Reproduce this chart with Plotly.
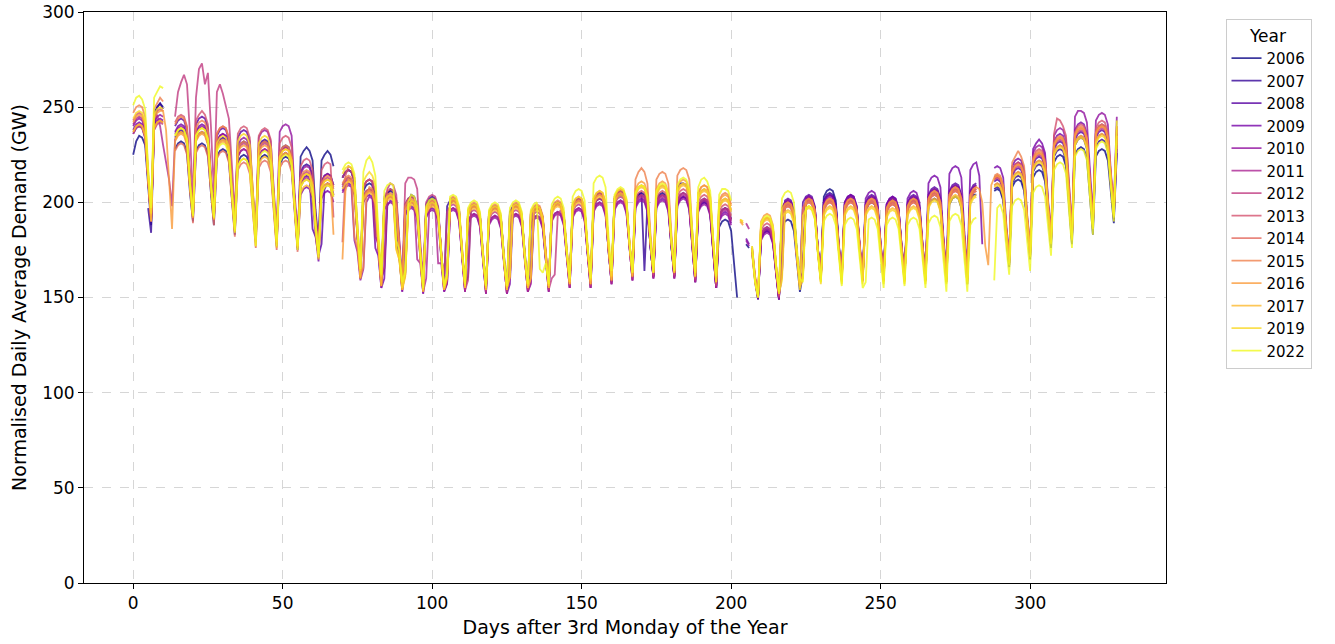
import plotly.graph_objects as go
from plotly.colors import sample_colorscale

N = None

# Normalised daily average demand (GW): one row per week (Mon..Sun),
# last row is the Monday on day 329.  None = no data for that day.
y2006 = [
    [225, 232, 235, 234, 230, 207, 188], [247, 250, 252, 250, N, N, N],
    [228, 231, 232, 231, 226, 205, 190], [227, 230, 231, 230, 225, 205, 188],
    [224, 227, 228, 227, 222, 200, 183], [221, 224, 225, 224, 219, 197, 179],
    [221, 224, 225, 224, 219, 196, 177], [220, 223, 224, 223, 218, 195, 175],
    [224, 227, 229, 227, 222, 196, 179], [222, 225, 227, 225, 219, N, N],
    [213, 216, 217, 216, 211, 183, 163], [206, 209, 210, 209, 204, 178, 158],
    [202, 205, 206, 205, 180, 172, 156], [163, 200, 204, 203, 198, 174, 155],
    [198, 201, 202, 201, 196, 173, 156], [162, 199, 201, 200, 195, 173, 155],
    [194, 197, 198, 197, 192, 171, 154], [193, 196, 197, 196, 191, 170, 154],
    [194, 197, 198, 197, 192, 171, 155], [161, 195, 197, 196, 191, 171, 155],
    [196, 199, 200, 199, 194, 173, 158], [197, 200, 201, 200, 195, 174, 157],
    [198, 201, 202, 201, 196, 174, 158], [200, 203, 204, 203, 198, 177, 161],
    [201, 204, 205, 204, 199, 177, 161], [201, 204, 205, 204, 199, 177, 161],
    [207, 210, 210, 209, 204, 180, 162], [196, 199, 200, 199, 194, 173, 155],
    [187, 190, 191, 190, 185, 165, 150], [N, N, 178, 176, N, 160, 149],
    [182, 185, 186, 185, 180, 163, 149], [187, 190, 191, 190, 185, 167, 153],
    [162, 200, 202, 201, 196, 175, 160], [203, 206, 207, 206, 201, 178, 162],
    [197, 200, 201, 200, 195, 175, 159], [196, 199, 200, 199, 194, 174, 159],
    [197, 200, 201, 200, 195, 175, 160], [197, 200, 201, 200, 195, 175, 159],
    [198, 201, 202, 201, 196, 175, 158], [199, 202, 203, 202, 197, 175, 157],
    [201, 204, 204, N, N, N, N], [N, 206, 207, 206, 201, 182, 166],
    [208, 211, 212, 211, 206, 186, 170], [213, 216, 217, 216, 211, 192, 176],
    [221, 224, 225, 224, 219, 197, 178], [225, 228, 229, 228, 223, 202, 183],
    [224, 227, 228, 227, 222, 205, 189], [226],
]

y2007 = [
    [N, N, N, N, N, 197, 184], [238, 250, 252, 249, N, N, N],
    [234, 237, 238, 237, 232, 209, 193], [233, 236, 237, 236, 231, 208, 191],
    [230, 233, 234, 233, 228, 204, 186], [228, 231, 232, 231, 226, 201, 182],
    [229, 232, 233, 232, 227, 201, 180], [226, 229, 230, 229, 224, 198, 178],
    [216, 219, 220, 219, 214, 191, 175], [211, 214, 215, 214, 209, N, N],
    [213, 216, 217, 216, 211, 183, 163], [208, 211, 212, 211, 182, 179, 160],
    [165, 203, 207, 206, 201, 176, 157], [199, 202, 203, 202, 197, 173, 155],
    [199, 202, 203, 202, 197, 174, 157], [198, 201, 202, 201, 196, 173, 156],
    [161, 198, 199, 198, 193, 171, 155], [194, 197, 198, 197, 192, 170, 155],
    [195, 198, 199, 198, 193, 171, 156], [162, 197, 198, 197, 192, 171, 156],
    [196, 199, 200, 199, 194, 173, 158], [198, 201, 202, 201, 196, 174, 158],
    [201, 204, 205, 204, 199, 176, 160], [202, 205, 206, 205, 200, 178, 162],
    [201, 204, 205, 164, 199, 177, 161], [200, 203, 204, 203, 198, 177, 161],
    [199, 202, 203, 202, 197, 176, 158], [197, 200, 201, 200, 195, 173, 155],
    [193, 196, 197, 196, 191, N, N], [N, N, N, N, 174, 159, 150],
    [181, 184, 185, 184, 179, 163, 149], [197, 200, 201, 200, 195, 173, 158],
    [163, 202, 203, 202, 197, 176, 160], [201, 204, 205, 204, 199, 177, 161],
    [199, 202, 203, 202, 197, 176, 160], [199, 202, 203, 202, 197, 176, 160],
    [198, 201, 202, 201, 196, 176, 160], [199, 202, 203, 202, 197, 176, 160],
    [203, 206, 207, 206, 201, 178, 160], [205, 208, 209, 208, 203, 179, 160],
    [205, 208, 209, N, N, N, N], [N, 207, 208, 207, 202, 182, 167],
    [210, 213, 214, 213, 208, 187, 171], [216, 219, 220, 219, 214, 194, 178],
    [224, 227, 228, 227, 222, 199, 180], [230, 233, 234, 233, 228, 205, 186],
    [229, 232, 233, 232, 227, 208, 191], [228],
]

y2008 = [
    [236, 239, 240, 239, 234, 209, 190], [239, 242, 243, 242, N, N, N],
    [240, 243, 244, 243, 238, 213, 196], [241, 244, 245, 244, 239, 213, 195],
    [235, 238, 239, 238, 233, 207, 188], [234, 237, 238, 237, 232, 205, 185],
    [228, 231, 232, 231, 226, 200, 180], [225, 228, 229, 228, 223, 198, 177],
    [210, 213, 214, 213, 186, 182, 172], [178, 207, 210, 209, 204, N, N],
    [209, 212, 213, 212, 207, 181, 161], [203, 206, 207, 206, 201, 176, 157],
    [200, 203, 204, 203, 198, 174, 155], [197, 200, 201, 200, 195, 172, 154],
    [196, 199, 200, 199, 194, 172, 155], [162, 200, 202, 201, 196, 173, 156],
    [195, 198, 199, 198, 193, 171, 155], [194, 197, 198, 197, 192, 170, 155],
    [161, 198, 199, 198, 193, 171, 156], [194, 197, 198, 197, 192, 171, 156],
    [196, 199, 200, 199, 194, 173, 158], [198, 201, 202, 201, 196, 174, 158],
    [201, 204, 205, 204, 199, 176, 160], [202, 205, 206, 205, 200, 178, 162],
    [200, 203, 204, 203, 198, 177, 161], [200, 203, 204, 203, 198, 177, 161],
    [201, 204, 205, 204, 199, 177, 159], [198, 201, 202, 201, 196, 174, 156],
    [193, 196, 197, 196, 191, N, N], [N, N, N, N, 175, 160, 150],
    [183, 186, 187, 186, 181, 164, 150], [163, 201, 202, 201, 196, 173, 158],
    [200, 203, 204, 203, 198, 176, 161], [200, 203, 204, 203, 198, 176, 161],
    [200, 203, 204, 203, 198, 176, 161], [200, 203, 204, 203, 198, 176, 161],
    [199, 202, 203, 202, 197, 176, 161], [200, 203, 204, 203, 198, 176, 161],
    [204, 207, 208, 207, 202, 178, 161], [206, 209, 210, 209, 204, 179, 161],
    [206, 209, 210, N, N, N, N], [N, 211, 212, 211, 206, 185, 168],
    [214, 217, 218, 217, 212, 190, 172], [220, 223, 224, 223, 218, 197, 179],
    [228, 231, 232, 231, 226, 202, 181], [233, 236, 237, 236, 231, 207, 187],
    [234, 237, 238, 237, 232, 211, 193], [236],
]

y2009 = [
    [238, 241, 242, 241, 236, 210, 190], [240, 243, 244, 243, N, N, N],
    [237, 240, 241, 240, 235, 211, 194], [237, 240, 241, 240, 235, 211, 193],
    [232, 235, 236, 235, 230, 205, 187], [224, 227, 228, 227, 222, 199, 180],
    [224, 227, 228, 227, 222, 198, 178], [222, 225, 226, 225, 220, 196, 176],
    [204, 207, 208, 207, 202, 183, 169], [202, 205, 206, 205, 200, N, N],
    [206, 209, 210, 209, 204, 179, 160], [200, 203, 204, 203, 176, 172, 155],
    [160, 198, 201, 200, 195, 172, 153], [194, 197, 198, 197, 192, 170, 152],
    [193, 196, 197, 196, 191, 170, 153], [158, 196, 197, 196, 191, 170, 153],
    [190, 193, 194, 193, 188, 168, 152], [189, 192, 193, 192, 187, 167, 152],
    [157, 193, 194, 193, 188, 168, 153], [189, 192, 193, 192, 187, 168, 153],
    [191, 194, 195, 194, 189, 170, 155], [193, 196, 197, 196, 191, 171, 155],
    [196, 199, 200, 199, 194, 173, 157], [197, 200, 201, 200, 195, 175, 159],
    [198, 201, 202, 201, 196, 176, 160], [198, 201, 202, 201, 196, 176, 160],
    [199, 202, 203, 202, 197, 176, 158], [196, 199, 200, 199, 194, 173, 155],
    [191, 194, 195, 194, 189, N, N], [N, N, 181, 178, N, 158, 149],
    [181, 184, 185, 184, 179, 163, 149], [196, 199, 200, 199, 194, 172, 157],
    [164, 202, 203, 202, 197, 176, 160], [200, 203, 204, 203, 198, 176, 161],
    [200, 203, 204, 203, 198, 176, 161], [202, 205, 206, 205, 200, 178, 162],
    [199, 202, 203, 202, 197, 176, 161], [202, 205, 206, 205, 200, 178, 162],
    [210, 213, 214, 213, 208, 182, 164], [215, 218, 219, 218, 213, 185, 165],
    [217, 220, 221, 214, 178, N, N], [N, 218, 219, 218, 213, 189, 172],
    [219, 222, 223, 222, 217, 193, 175], [228, 231, 233, 231, 226, 201, 183],
    [232, 235, 236, 235, 230, 204, 183], [238, 241, 242, 241, 236, 210, 190],
    [237, 240, 241, 240, 235, 212, 195], [232],
]

y2010 = [
    [240, 243, 244, 243, 238, 212, 191], [242, 245, 246, 245, N, N, N],
    [236, 239, 240, 239, 234, 210, 194], [236, 239, 240, 239, 234, 210, 193],
    [232, 235, 236, 235, 230, 205, 187], [230, 233, 234, 233, 228, 202, 183],
    [234, 237, 238, 237, 232, 204, 183], [237, 240, 241, 240, 235, 205, 183],
    [215, 218, 219, 218, 213, 190, 175], [211, 214, 215, 214, 209, N, N],
    [205, 208, 209, 208, 180, 174, 159], [165, 200, 203, 202, 197, 174, 155],
    [196, 199, 200, 199, 194, 172, 153], [193, 196, 197, 196, 191, 170, 152],
    [192, 195, 196, 195, 190, 170, 153], [157, 195, 196, 195, 190, 170, 153],
    [189, 192, 193, 192, 187, 168, 152], [188, 191, 192, 191, 186, 167, 152],
    [189, 192, 193, 192, 187, 168, 153], [157, 191, 192, 191, 186, 168, 153],
    [190, 193, 194, 193, 188, 170, 155], [192, 195, 196, 195, 190, 171, 155],
    [195, 198, 199, 198, 193, 173, 157], [196, 199, 200, 199, 194, 175, 159],
    [197, 200, 201, 200, 195, 175, 160], [197, 200, 201, 200, 195, 175, 160],
    [198, 201, 202, 201, 196, 175, 158], [195, 198, 199, 198, 193, 172, 155],
    [190, 193, 194, 193, 188, N, N], [N, N, 180, 177, N, 160, 150],
    [180, 183, 184, 183, 178, 162, 149], [197, 200, 201, 200, 195, 173, 158],
    [163, 202, 203, 202, 197, 176, 160], [199, 202, 203, 202, 197, 176, 160],
    [199, 202, 203, 202, 197, 176, 160], [199, 202, 203, 202, 197, 176, 160],
    [198, 201, 202, 201, 196, 176, 160], [199, 202, 203, 202, 197, 176, 160],
    [203, 206, 207, 206, 201, 178, 160], [205, 208, 209, 208, 203, 179, 160],
    [205, 208, 209, N, N, N, N], [N, 213, 214, 213, 208, 186, 170],
    [217, 220, 221, 220, 215, 191, 174], [226, 229, 230, 229, 224, 200, 182],
    [235, 238, 239, 238, 233, 206, 185], [245, 248, 248, 247, 242, 214, 193],
    [243, 246, 247, 246, 241, 216, 198], [245],
]

y2011 = [
    [241, 244, 245, 244, 239, 212, 192], [243, 246, 240, 230, 222, 212, 198],
    [233, 236, 237, 236, 231, 208, 192], [233, 236, 237, 236, 231, 208, 191],
    [229, 232, 233, 232, 227, 203, 185], [224, 227, 228, 227, 222, 199, 180],
    [224, 227, 228, 227, 222, 198, 178], [222, 225, 226, 225, 220, 196, 176],
    [209, 212, 213, 212, 207, 187, 172], [206, 209, 210, 209, 204, N, N],
    [208, 211, 212, 211, 206, 180, 160], [202, 205, 206, 205, 200, 175, 156],
    [199, 202, 203, 202, 197, 173, 154], [196, 199, 200, 199, 170, 168, 153],
    [160, 195, 199, 198, 168, 168, 154], [158, 196, 197, 196, 191, 170, 153],
    [190, 193, 194, 193, 188, 168, 152], [189, 192, 193, 192, 187, 167, 152],
    [190, 193, 194, 193, 188, 168, 153], [158, 192, 193, 192, 187, 168, 153],
    [191, 194, 195, 194, 189, 170, 155], [193, 196, 197, 196, 191, 171, 155],
    [196, 199, 200, 199, 194, 173, 157], [197, 200, 201, 200, 195, 175, 159],
    [199, 202, 203, 202, 197, 176, 160], [199, 202, 203, 202, 197, 176, 160],
    [200, 203, 204, 203, 198, 176, 158], [197, 200, 201, 200, 195, 173, 155],
    [192, 195, 196, 195, 190, N, N], [N, N, 189, 186, N, 159, 150],
    [182, 185, 186, 185, 180, 163, 150], [194, 197, 198, 197, 192, 171, 156],
    [161, 199, 200, 199, 194, 174, 159], [196, 199, 200, 199, 194, 174, 159],
    [196, 199, 200, 199, 194, 174, 159], [196, 199, 200, 199, 194, 174, 159],
    [195, 198, 199, 198, 193, 174, 159], [196, 199, 200, 199, 194, 174, 159],
    [200, 203, 204, 203, 198, 176, 159], [202, 205, 206, 205, 200, 177, 159],
    [202, 205, 206, N, N, N, N], [N, 209, 210, 209, 204, 183, 168],
    [212, 215, 216, 215, 210, 188, 172], [218, 221, 222, 221, 216, 195, 179],
    [226, 229, 230, 229, 224, 200, 181], [231, 234, 235, 234, 229, 205, 187],
    [232, 235, 236, 235, 230, 209, 193], [230],
]

y2012 = [
    [236, 239, 240, 239, 234, 209, 190], [238, 241, 242, 241, N, N, N],
    [245, 258, 263, 267, 262, 236, 201], [255, 270, 273, 262, 268, 240, 205],
    [258, 262, 257, 250, 244, 220, 195], [227, 230, 231, 230, 225, 201, 181],
    [227, 230, 231, 230, 225, 200, 179], [225, 228, 229, 228, 223, 198, 177],
    [212, 215, 216, 215, 210, 189, 173], [209, 212, 213, 212, 207, N, N],
    [213, 216, 217, 216, 211, 183, 163], [208, 211, 212, 211, 182, 178, 160],
    [166, 207, 210, 209, 204, 178, 158], [210, 213, 213, 212, 207, 180, 160],
    [200, 203, 204, 203, 198, 174, 157], [195, 198, 199, 198, 193, 171, 154],
    [159, 195, 196, 195, 190, 169, 153], [191, 194, 195, 194, 189, 168, 153],
    [192, 195, 196, 195, 190, 169, 154], [191, 194, 195, 194, 189, 169, 154],
    [160, 162, 193, 196, 191, 171, 156], [195, 198, 199, 198, 193, 172, 156],
    [198, 201, 202, 201, 196, 174, 158], [199, 202, 203, 202, 197, 176, 160],
    [200, 203, 204, 203, 198, 177, 161], [200, 203, 204, 203, 198, 177, 161],
    [201, 204, 205, 204, 199, 177, 159], [198, 201, 202, 201, 196, 174, 156],
    [193, 196, 197, 196, 191, N, N], [N, N, N, N, 174, 159, 150],
    [183, 186, 187, 186, 181, 164, 150], [196, 199, 200, 199, 194, 172, 157],
    [162, 201, 202, 201, 196, 175, 160], [198, 201, 202, 201, 196, 175, 160],
    [198, 201, 202, 201, 196, 175, 160], [198, 201, 202, 201, 196, 175, 160],
    [197, 200, 201, 200, 195, 175, 160], [198, 201, 202, 201, 196, 175, 160],
    [202, 205, 206, 205, 200, 177, 160], [204, 207, 208, 207, 202, 178, 160],
    [204, 207, 208, N, N, N, N], [N, 212, 213, 212, 207, 185, 169],
    [215, 218, 219, 218, 213, 190, 173], [221, 224, 225, 224, 219, 197, 180],
    [229, 232, 233, 232, 227, 202, 182], [234, 237, 238, 237, 232, 207, 188],
    [235, 238, 239, 238, 233, 211, 194], [238],
]

y2013 = [
    [243, 246, 247, 246, 241, 213, 193], [245, 248, 249, 248, N, N, N],
    [242, 245, 246, 245, 240, 214, 197], [243, 246, 248, 246, 241, 214, 196],
    [236, 239, 240, 239, 234, 208, 189], [236, 239, 240, 239, 234, 206, 186],
    [235, 238, 239, 238, 233, 204, 183], [231, 234, 235, 234, 229, 201, 180],
    [219, 222, 223, 222, 217, 193, 177], [217, 220, 221, 220, 192, N, N],
    [179, 214, 219, 218, 213, 185, 164], [208, 211, 212, 211, 206, 179, 160],
    [203, 206, 207, 206, 201, 176, 157], [199, 202, 203, 202, 197, 173, 155],
    [197, 200, 201, 200, 195, 173, 156], [161, 200, 201, 200, 195, 173, 156],
    [194, 197, 198, 197, 192, 171, 155], [193, 196, 197, 196, 191, 170, 155],
    [160, 197, 198, 197, 192, 171, 156], [193, 196, 197, 196, 191, 171, 156],
    [195, 198, 199, 198, 193, 173, 158], [197, 200, 201, 200, 195, 174, 158],
    [200, 203, 204, 203, 198, 176, 160], [201, 204, 205, 204, 199, 178, 162],
    [202, 205, 206, 205, 200, 178, 162], [202, 205, 206, 205, 200, 178, 162],
    [203, 206, 207, 206, 201, 178, 160], [200, 203, 204, 203, 198, 175, 157],
    [195, 198, 199, 198, 193, N, N], [N, N, N, N, 175, 160, 151],
    [185, 188, 189, 188, 183, 165, 151], [162, 198, 199, 198, 193, 172, 157],
    [197, 200, 201, 200, 195, 175, 160], [197, 200, 201, 200, 195, 175, 160],
    [197, 200, 201, 200, 195, 175, 160], [197, 200, 201, 200, 195, 175, 160],
    [196, 199, 200, 199, 194, 175, 160], [197, 200, 201, 200, 195, 175, 160],
    [201, 204, 205, 204, 199, 177, 160], [203, 206, 207, 206, 201, 178, 160],
    [203, 206, 207, N, N, N, N], [N, 212, 213, 212, 207, 185, 169],
    [217, 220, 221, 220, 215, 191, 174], [224, 227, 228, 227, 222, 199, 181],
    [236, 244, 243, 240, 235, 208, 186], [237, 240, 241, 240, 235, 209, 190],
    [239, 242, 243, 242, 237, 214, 196], [240],
]

y2014 = [
    [237, 240, 241, 240, 235, 210, 190], [239, 242, 243, 242, N, N, N],
    [227, 230, 231, 230, 225, 205, 189], [226, 229, 230, 229, 224, 204, 188],
    [223, 226, 227, 226, 221, 200, 182], [217, 220, 221, 220, 215, 194, 176],
    [218, 221, 222, 221, 216, 194, 175], [218, 221, 222, 221, 216, 193, 174],
    [208, 211, 212, 211, 206, 186, 171], [205, 208, 209, 208, 203, N, N],
    [209, 212, 213, 212, 207, 181, 161], [203, 206, 207, 206, 201, 176, 157],
    [200, 203, 204, 203, 177, 171, 155], [162, 197, 201, 200, 195, 172, 154],
    [196, 199, 200, 199, 194, 172, 155], [162, 201, 202, 201, 196, 173, 156],
    [195, 198, 199, 198, 193, 171, 155], [194, 197, 198, 197, 192, 170, 155],
    [161, 198, 199, 198, 193, 171, 156], [194, 197, 198, 197, 192, 171, 156],
    [196, 199, 200, 199, 194, 173, 158], [198, 201, 202, 201, 196, 174, 158],
    [201, 204, 205, 204, 199, 176, 160], [202, 205, 206, 205, 200, 178, 162],
    [205, 208, 209, 208, 203, 180, 163], [205, 208, 209, 208, 203, 180, 163],
    [206, 209, 210, 209, 204, 180, 161], [203, 206, 207, 206, 201, 177, 158],
    [198, 201, 202, 201, 196, N, N], [N, N, N, N, 176, 161, 151],
    [188, 191, 192, 191, 186, 167, 152], [162, 198, 199, 198, 193, 172, 157],
    [197, 200, 201, 200, 195, 175, 160], [197, 200, 201, 200, 195, 175, 160],
    [197, 200, 201, 200, 195, 175, 160], [197, 200, 201, 200, 195, 175, 160],
    [196, 199, 200, 199, 194, 175, 160], [197, 200, 201, 200, 195, 175, 160],
    [201, 204, 205, 204, 199, 177, 160], [203, 206, 207, 206, 201, 178, 160],
    [203, 206, 207, N, N, N, N], [N, 213, 214, 213, 208, 186, 170],
    [216, 219, 220, 219, 214, 191, 174], [222, 225, 226, 225, 220, 198, 181],
    [230, 233, 234, 233, 228, 203, 183], [235, 238, 239, 238, 233, 208, 189],
    [236, 239, 240, 239, 234, 212, 195], [236],
]

y2015 = [
    [247, 250, 251, 250, 245, 216, 195], [249, 252, 255, 253, N, N, N],
    [241, 244, 245, 244, 239, 213, 196], [239, 242, 243, 242, 237, 212, 194],
    [236, 239, 240, 239, 234, 208, 189], [228, 231, 232, 231, 226, 201, 182],
    [228, 231, 232, 231, 226, 200, 180], [226, 229, 230, 229, 224, 198, 178],
    [213, 216, 217, 216, 211, 189, 174], [210, 213, 214, 213, 208, N, N],
    [210, 213, 214, 213, 182, 176, 161], [166, 203, 208, 207, 202, 177, 157],
    [201, 204, 205, 204, 199, 175, 155], [198, 201, 202, 201, 196, 173, 154],
    [197, 200, 201, 200, 195, 173, 155], [162, 202, 203, 202, 197, 174, 156],
    [196, 199, 200, 199, 194, 172, 155], [195, 198, 199, 198, 193, 171, 155],
    [162, 199, 200, 199, 194, 172, 156], [195, 198, 199, 198, 193, 172, 156],
    [197, 200, 201, 200, 195, 174, 158], [199, 202, 203, 202, 197, 175, 159],
    [202, 205, 206, 205, 200, 177, 161], [203, 206, 207, 206, 201, 179, 163],
    [212, 216, 218, 216, 210, 184, 167], [212, 215, 216, 215, 210, 184, 167],
    [214, 217, 218, 217, 212, 185, 165], [205, 208, 209, 208, 203, 178, 160],
    [201, 204, 205, 204, 199, N, N], [N, N, N, N, 177, 161, 152],
    [188, 191, 192, 191, 186, 167, 152], [194, 197, 198, 197, 192, 171, 156],
    [161, 199, 200, 199, 194, 174, 159], [196, 199, 200, 199, 194, 174, 159],
    [196, 199, 200, 199, 194, 174, 159], [196, 199, 200, 199, 194, 174, 159],
    [195, 198, 199, 198, 193, 174, 159], [196, 199, 200, 199, 194, 174, 159],
    [200, 203, 204, 203, 198, 176, 159], [202, 205, 206, 205, 200, 177, 159],
    [202, 205, 206, N, N, N, N], [N, 214, 215, 214, 209, 186, 170],
    [221, 224, 227, 224, 219, 194, 176], [223, 226, 227, 226, 221, 198, 181],
    [231, 234, 235, 234, 229, 203, 183], [236, 239, 240, 239, 234, 208, 189],
    [237, 240, 241, 240, 235, 212, 195], [240],
]

y2016 = [
    [242, 245, 246, 245, 240, 213, 193], [244, 247, 248, 248, 238, 212, 186],
    [232, 235, 236, 235, 230, 208, 192], [232, 235, 236, 235, 230, 208, 191],
    [228, 231, 232, 231, 226, 203, 185], [226, 229, 230, 229, 224, 200, 181],
    [226, 229, 230, 229, 224, 199, 179], [224, 227, 228, 227, 222, 197, 177],
    [211, 214, 215, 214, 209, 188, 173], [208, 211, 212, 211, 183, N, N],
    [170, 206, 212, 211, 206, 180, 160], [202, 205, 206, 205, 200, 175, 156],
    [199, 202, 203, 202, 197, 173, 154], [196, 199, 200, 199, 194, 171, 153],
    [195, 198, 199, 198, 193, 171, 154], [161, 200, 201, 200, 195, 173, 155],
    [194, 197, 198, 197, 192, 171, 154], [193, 196, 197, 196, 191, 170, 154],
    [194, 197, 198, 197, 192, 171, 155], [161, 196, 197, 196, 191, 171, 155],
    [195, 198, 199, 198, 193, 173, 157], [197, 200, 201, 200, 195, 174, 157],
    [200, 203, 204, 203, 198, 176, 159], [201, 204, 205, 204, 199, 178, 161],
    [207, 210, 211, 210, 205, 181, 164], [207, 210, 211, 210, 205, 181, 164],
    [208, 211, 212, 211, 206, 181, 162], [205, 208, 209, 208, 203, 178, 159],
    [200, 203, 204, 203, 198, N, N], [190, 188, N, N, 176, 161, 151],
    [190, 193, 194, 193, 188, 168, 153], [196, 199, 200, 199, 194, 172, 157],
    [162, 201, 202, 201, 196, 175, 160], [198, 201, 202, 201, 196, 175, 160],
    [198, 201, 202, 201, 196, 175, 160], [198, 201, 202, 201, 196, 175, 160],
    [197, 200, 201, 200, 195, 175, 160], [198, 201, 202, 201, 196, 175, 160],
    [202, 205, 206, 205, 200, 177, 160], [204, 207, 208, 207, 202, 178, 160],
    [204, 207, 208, 207, 200, 177, 167], [209, 213, 214, 213, 208, 186, 170],
    [216, 219, 220, 219, 214, 191, 174], [222, 225, 226, 225, 220, 198, 181],
    [230, 233, 234, 233, 228, 203, 183], [235, 238, 239, 238, 233, 208, 189],
    [236, 239, 240, 239, 234, 212, 195], [238],
]

y2017 = [
    [237, 240, 241, 240, 235, 210, 190], [239, 242, 243, 242, N, N, N],
    [233, 236, 237, 236, 231, 208, 192], [233, 236, 237, 236, 231, 208, 191],
    [229, 232, 233, 232, 227, 203, 185], [219, 222, 223, 222, 217, 196, 177],
    [220, 223, 224, 223, 218, 195, 176], [222, 225, 226, 225, 220, 196, 176],
    [205, 208, 209, 208, 203, 184, 170], [206, 209, 210, 209, 204, N, N],
    [207, 210, 211, 210, 205, 180, 160], [201, 204, 205, 204, 199, 175, 156],
    [198, 201, 202, 201, 175, 170, 154], [161, 195, 199, 198, 193, 171, 153],
    [194, 197, 198, 197, 192, 171, 154], [160, 199, 200, 199, 194, 172, 155],
    [193, 196, 197, 196, 191, 170, 154], [192, 195, 196, 195, 190, 169, 154],
    [193, 196, 197, 196, 191, 170, 155], [160, 195, 196, 195, 190, 170, 155],
    [194, 197, 198, 197, 192, 172, 157], [196, 199, 200, 199, 194, 173, 157],
    [199, 202, 203, 202, 197, 175, 159], [200, 203, 204, 203, 198, 177, 161],
    [204, 207, 208, 207, 202, 179, 163], [204, 207, 208, 207, 202, 179, 163],
    [205, 208, 209, 208, 203, 179, 161], [202, 205, 206, 205, 200, 176, 158],
    [197, 200, 201, 200, 195, N, N], [191, 189, N, N, 173, 158, 150],
    [187, 190, 191, 190, 185, 166, 152], [192, 195, 196, 195, 190, 170, 155],
    [160, 197, 198, 197, 192, 173, 158], [194, 197, 198, 197, 192, 173, 158],
    [194, 197, 198, 197, 192, 173, 158], [194, 197, 198, 197, 192, 173, 158],
    [193, 196, 197, 196, 191, 173, 158], [194, 197, 198, 197, 192, 173, 158],
    [198, 201, 202, 201, 196, 175, 158], [200, 203, 204, 203, 198, 176, 158],
    [200, 203, 204, N, N, N, N], [N, 209, 210, 209, 204, 183, 168],
    [212, 215, 216, 215, 210, 188, 172], [218, 221, 222, 221, 216, 195, 179],
    [226, 229, 230, 229, 224, 200, 181], [231, 234, 235, 234, 229, 205, 187],
    [232, 235, 236, 235, 230, 209, 193], [232],
]

y2019 = [
    [244, 247, 248, 247, 242, 214, 194], [246, 249, 250, 249, N, N, N],
    [235, 238, 239, 238, 233, 210, 193], [235, 238, 239, 238, 233, 210, 192],
    [231, 234, 235, 234, 229, 205, 186], [232, 235, 236, 235, 230, 204, 184],
    [231, 234, 235, 234, 229, 202, 181], [224, 227, 228, 227, 222, 197, 177],
    [211, 214, 215, 214, 209, 188, 173], [208, 211, 212, 211, 206, N, N],
    [215, 218, 219, 218, 213, 185, 164], [211, 214, 216, 214, 209, 181, 161],
    [200, 203, 204, 203, 176, 170, 155], [162, 197, 201, 200, 195, 172, 154],
    [196, 199, 200, 199, 194, 172, 155], [162, 201, 202, 201, 196, 173, 156],
    [195, 198, 199, 198, 193, 171, 155], [194, 197, 198, 197, 192, 170, 155],
    [161, 198, 199, 198, 193, 171, 156], [194, 197, 198, 197, 192, 171, 156],
    [196, 199, 200, 199, 194, 173, 158], [199, 202, 203, 202, 197, 175, 159],
    [202, 205, 206, 205, 200, 177, 161], [203, 206, 207, 206, 201, 179, 163],
    [205, 208, 209, 208, 203, 180, 163], [205, 208, 209, 208, 203, 180, 163],
    [206, 209, 210, 209, 204, 180, 161], [203, 206, 207, 206, 201, 177, 158],
    [198, 201, 202, 201, 196, N, N], [191, 190, N, N, 175, 159, 151],
    [188, 191, 192, 191, 186, 167, 152], [159, 194, 195, 194, 189, 169, 154],
    [193, 196, 197, 196, 191, 172, 157], [193, 196, 197, 196, 191, 172, 157],
    [193, 196, 197, 196, 191, 172, 157], [193, 196, 197, 196, 191, 172, 157],
    [192, 195, 196, 195, 190, 172, 157], [193, 196, 197, 196, 191, 172, 157],
    [197, 200, 201, 200, 195, 174, 157], [199, 202, 203, 202, 197, 175, 157],
    [199, 202, 203, N, N, N, N], [N, 208, 209, 208, 203, 183, 167],
    [211, 214, 215, 214, 209, 188, 171], [217, 220, 221, 220, 215, 195, 178],
    [225, 228, 229, 228, 223, 200, 180], [230, 233, 234, 233, 228, 205, 186],
    [231, 234, 235, 234, 229, 209, 192], [235],
]

y2022 = [
    [251, 255, 256, 254, 249, 218, 197], [255, 258, 261, 260, N, N, N],
    [235, 238, 239, 238, 233, 210, 193], [235, 238, 239, 238, 233, 210, 192],
    [227, 230, 231, 230, 225, 202, 184], [219, 222, 223, 222, 217, 196, 177],
    [223, 226, 227, 226, 221, 197, 177], [221, 224, 225, 224, 219, 195, 175],
    [208, 211, 212, 211, 206, 186, 171], [205, 208, 209, 208, 203, N, N],
    [217, 220, 221, 220, 215, 186, 165], [216, 222, 224, 221, 214, 185, 162],
    [206, 209, 210, 209, 180, 175, 158], [164, 200, 204, 203, 198, 174, 155],
    [198, 201, 202, 201, 196, 173, 156], [163, 203, 204, 203, 198, 174, 157],
    [197, 200, 201, 200, 195, 172, 156], [196, 199, 200, 199, 194, 171, 156],
    [197, 200, 201, 200, 195, 172, 157], [196, 199, 200, 165, 163, 168, 157],
    [199, 202, 203, 202, 197, 175, 160], [203, 206, 207, 206, 201, 177, 160],
    [210, 213, 214, 213, 208, 182, 164], [204, 207, 208, 207, 202, 179, 163],
    [205, 208, 209, 208, 203, 180, 163], [206, 209, 210, 209, 204, 180, 164],
    [209, 212, 213, 212, 207, 182, 163], [208, 212, 213, 211, 206, 180, 161],
    [204, 207, 207, 206, 201, N, N], [N, N, N, N, 177, 158, 150],
    [189, 192, 193, 192, 187, 167, 153], [202, 205, 206, 205, 200, 176, 160],
    [158, 197, 198, 197, 192, 173, 158], [190, 193, 194, 193, 188, 170, 156],
    [188, 191, 192, 191, 186, 169, 155], [158, 191, 192, 191, 186, 169, 155],
    [188, 191, 192, 191, 186, 170, 156], [188, 191, 192, 191, 186, 169, 155],
    [189, 192, 193, 192, 187, 169, 153], [190, 193, 194, 193, 188, 170, 153],
    [188, 191, 192, N, N, N, N], [N, 159, 197, 199, 194, 177, 162],
    [198, 201, 202, 201, 196, 180, 164], [205, 208, 209, 208, 203, 188, 172],
    [217, 220, 221, 220, 215, 195, 176], [224, 227, 228, 227, 222, 201, 183],
    [228, 231, 232, 231, 226, 207, 190], [243],
]

years = ["2006", "2007", "2008", "2009", "2010", "2011", "2012",
         "2013", "2014", "2015", "2016", "2017", "2019", "2022"]
weekly_rows = [y2006, y2007, y2008, y2009, y2010, y2011, y2012,
               y2013, y2014, y2015, y2016, y2017, y2019, y2022]

x_ticks = [0, 50, 100, 150, 200, 250, 300]
y_ticks = [0, 50, 100, 150, 200, 250, 300]

colours = sample_colorscale("Plasma", [i / (len(years) - 1) for i in range(len(years))])

fig = go.Figure()
for year, rows, colour in zip(years, weekly_rows, colours):
    demand = [v for week in rows for v in week]
    fig.add_trace(go.Scatter(
        x=list(range(len(demand))), y=demand, mode="lines", name=year,
        line=dict(color=colour, width=1.8), opacity=0.8,
    ))

axis_common = dict(
    showgrid=True, gridcolor="#d6d6d6", griddash="dash", gridwidth=1,
    showline=True, linecolor="black", linewidth=1, mirror=True,
    ticks="outside", ticklen=5, tickcolor="black", zeroline=False,
    tickfont=dict(size=17, color="black"), automargin=False,
)

fig.update_layout(
    width=1335, height=644,
    margin=dict(l=84, r=169, t=12, b=61),
    plot_bgcolor="white", paper_bgcolor="white",
    font=dict(family="DejaVu Sans", color="black"),
    xaxis=dict(range=[-16.45, 345.45], tickvals=x_ticks,
               title=dict(text="Days after 3rd Monday of the Year",
                          font=dict(size=19), standoff=8),
               **axis_common),
    yaxis=dict(range=[0, 300], tickvals=y_ticks,
               title=dict(text="Normalised Daily Average Demand (GW)",
                          font=dict(size=19), standoff=10),
               **axis_common),
    legend=dict(
        title=dict(text="Year", font=dict(size=17), side="top center"),
        font=dict(size=15), x=1.055, y=0.988, xanchor="left", yanchor="top",
        bgcolor="white", bordercolor="#cccccc", borderwidth=1,
    ),
)

fig.write_html("out.html")
